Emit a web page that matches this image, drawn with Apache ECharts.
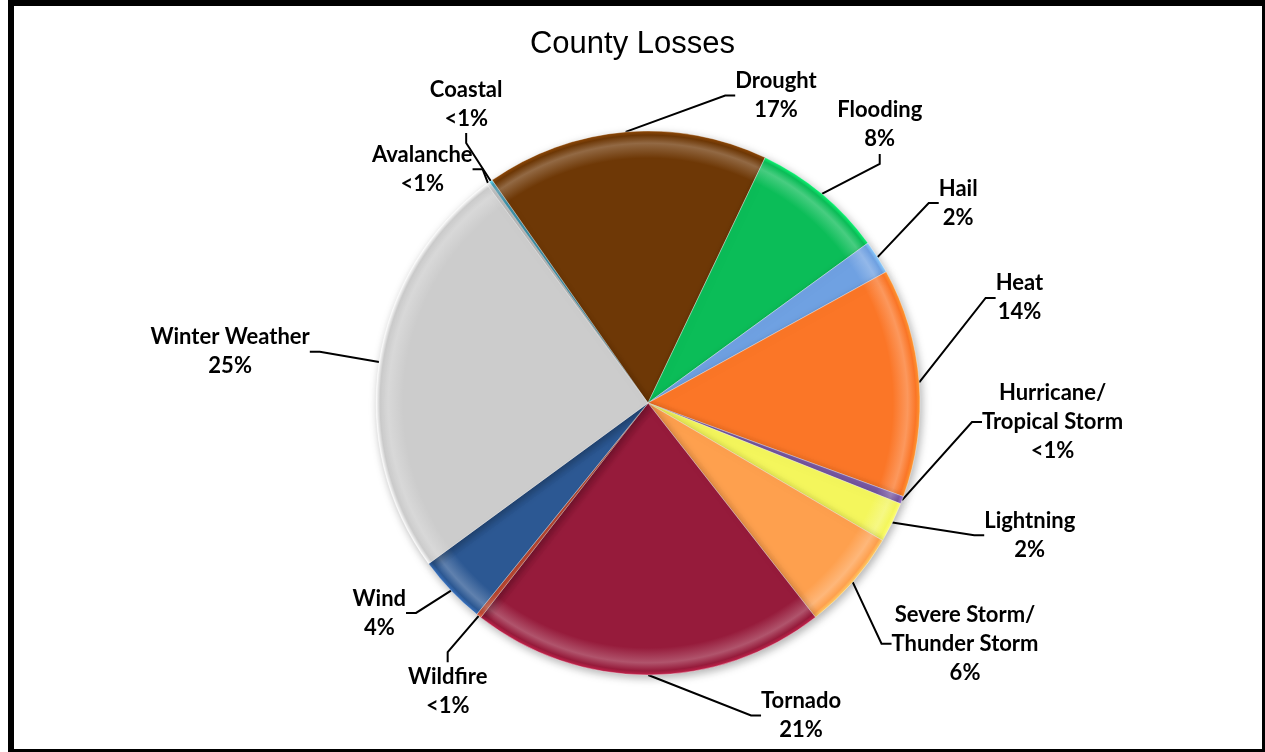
<!DOCTYPE html>
<html>
<head>
<meta charset="utf-8">
<title>County Losses</title>
<script src="https://cdn.jsdelivr.net/npm/echarts@6/dist/echarts.min.js"></script>
<style>
    html, body { margin: 0; padding: 0; background: #fff; }
    #losses { width: 1265px; height: 752px; }
</style>
</head>
<body>
<div id="losses"></div>
<script>
// hazard categories, clockwise from the top-left (Excel order)
var categories = ['Avalanche', 'Coastal', 'Drought', 'Flooding', 'Hail', 'Heat',
    'Hurricane/Tropical Storm', 'Lightning', 'Severe Storm/Thunder Storm',
    'Tornado', 'Wildfire', 'Wind', 'Winter Weather'];

// share of county losses, %
var lossShare = [0.2, 0.2, 16.8, 7.9, 2.0, 13.6, 0.45, 2.4, 6.0, 21.1, 0.3, 4.1, 24.95];

var sliceColors = ['#ededed', '#4bacc6', '#6e3806', '#0bbd58', '#6fa1e2', '#fb7627',
    '#7a5aa6', '#f4f65c', '#fea04e', '#961b3b', '#e0563c', '#2c5893', '#cccccc'];

// label spots: [angle clockwise from 12 o'clock, distance from the pie centre]
var labelSpots = [[316, 325], [328.7, 350], [22.6, 333], [39.8, 362], [57.2, 369],
    [74.2, 386], [92.7, 405], [109.1, 404], [127.2, 398], [153.9, 348],
    [214.8, 351], [232, 341], [277, 421]];

var pieCenter = [648, 403];
var pieRadius = 272;

var chartlosses;

// soft bevel: flat colour with a lighter rim band
var bevel = function(color) {
    var light = echarts.color.lift(color, 0.25);
    var dark = echarts.color.lift(color, -0.3);
    return {
        type: 'radial',
        x: pieCenter[0],
        y: pieCenter[1],
        r: pieRadius,
        global: true,
        colorStops: [
            { offset: 0, color: color },
            { offset: 0.9, color: color },
            { offset: 0.955, color: light },
            { offset: 0.985, color: color },
            { offset: 1, color: dark }
        ]
    };
};

var initChart = function() {
    chartlosses = echarts.init(document.getElementById('losses'));

    var pieData = [];
    for (var i = 0; i < categories.length; i++) {
        pieData.push({
            name: categories[i],
            value: lossShare[i],
            itemStyle: { color: bevel(sliceColors[i]) }
        });
    }

    var chartoption = {
        backgroundColor: '#fff',
        animation: false,
        title: {
            text: 'County Losses',
            left: 'center',
            top: 29,
            padding: 0,
            textStyle: {
                color: '#000',
                fontFamily: 'Liberation Sans',
                fontWeight: 'normal',
                fontSize: 31
            }
        },
        graphic: [{
            type: 'rect',
            silent: true,
            z: 100,
            shape: { x: 11, y: 3, width: 1254, height: 749 },
            style: { fill: 'none', stroke: '#000', lineWidth: 6 }
        }],
        series: [{
            name: 'County Losses',
            type: 'pie',
            center: pieCenter,
            radius: pieRadius,
            startAngle: 126.4,
            clockwise: true,
            avoidLabelOverlap: false,
            data: pieData,
            itemStyle: {
                borderColor: 'rgba(255,255,255,0.35)',
                borderWidth: 1,
                shadowBlur: 8,
                shadowOffsetX: 2,
                shadowOffsetY: 3,
                shadowColor: 'rgba(0,0,0,0.3)'
            },
            label: {
                show: true,
                position: 'outside',
                color: '#000',
                fontFamily: 'Lato',
                fontWeight: 'bold',
                fontSize: 22,
                lineHeight: 29,
                formatter: function(p) {
                    var pct = p.percent < 1 ? '<1%' : Math.round(p.percent) + '%';
                    return p.name.replace('/', '/\n') + '\n' + pct;
                }
            },
            labelLine: {
                show: true,
                length: 20,
                length2: 10,
                lineStyle: { color: '#000', width: 2 }
            },
            labelLayout: function(params) {
                var spot = labelSpots[params.dataIndex];
                var a = spot[0] * Math.PI / 180;
                return {
                    x: pieCenter[0] + spot[1] * Math.sin(a),
                    y: pieCenter[1] - spot[1] * Math.cos(a),
                    align: 'center',
                    verticalAlign: 'middle'
                };
            }
        }]
    };
    chartlosses.setOption(chartoption);
};

initChart();

window.addEventListener('resize', function() {
    chartlosses.resize();
});
</script>
</body>
</html>
